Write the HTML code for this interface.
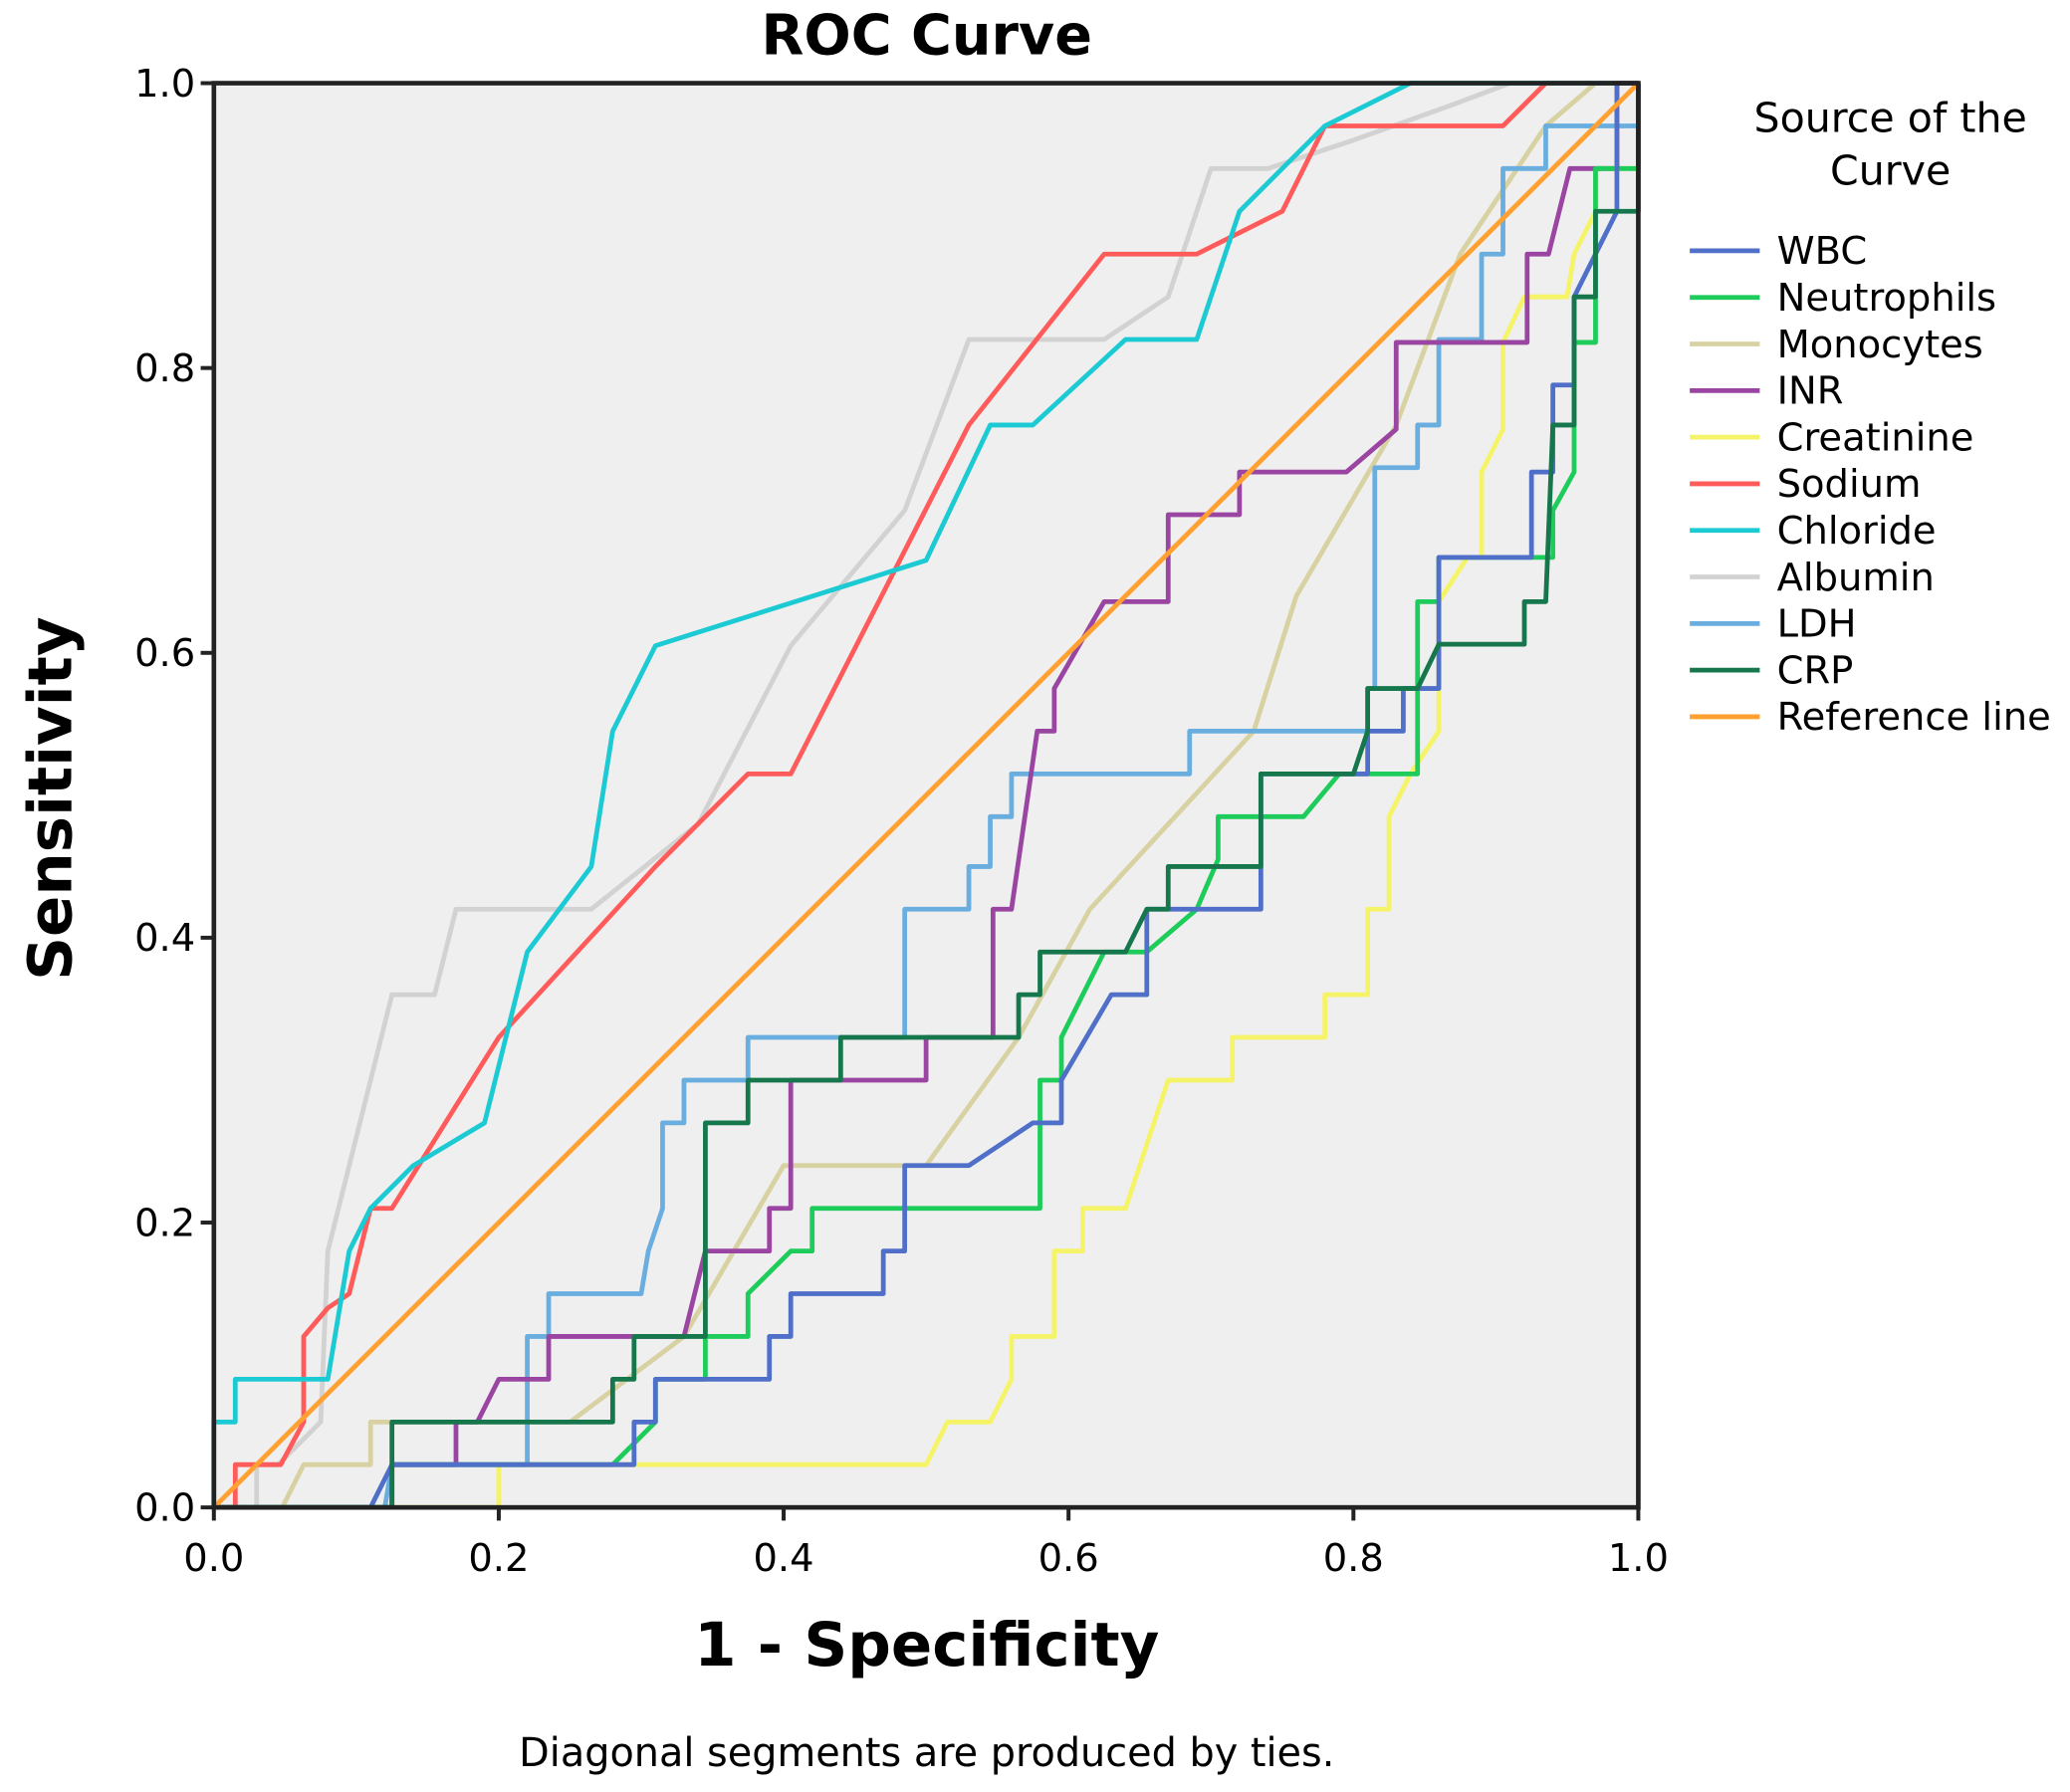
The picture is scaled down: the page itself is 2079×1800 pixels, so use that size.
<!DOCTYPE html>
<html><head><meta charset="utf-8"><style>
html,body{margin:0;padding:0;background:#fff;width:2079px;height:1800px;overflow:hidden}
svg{display:block}
text{font-family:"DejaVu Sans","Liberation Sans",sans-serif;fill:#000}
</style></head><body>
<svg id="chart" width="2079" height="1800" viewBox="0 0 1568 1357.6" xmlns="http://www.w3.org/2000/svg">
<rect x="162" y="63" width="1079" height="1079" fill="#efefef"/>
<g id="series"></g>
<g id="axes"></g>
<text x="702" y="41" text-anchor="middle" font-size="42" font-weight="bold">ROC Curve</text>
<text x="702" y="1262" text-anchor="middle" font-size="46" font-weight="bold">1 - Specificity</text>
<text transform="translate(54,605) rotate(-90)" text-anchor="middle" font-size="46" font-weight="bold">Sensitivity</text>
<text x="702" y="1338" text-anchor="middle" font-size="30">Diagonal segments are produced by ties.</text>
<text x="1432" y="100" text-anchor="middle" font-size="31">Source of the</text>
<text x="1432" y="140" text-anchor="middle" font-size="31">Curve</text>
<g id="legend"></g>
</svg>
<script>
const seriesNames = ["WBC","Neutrophils","Monocytes","INR","Creatinine","Sodium","Chloride","Albumin","LDH","CRP","Reference line"];
const seriesColors = ["#4f6fc8","#1dcc5a","#d8d2a2","#9a45a2","#f5f468","#ff5b5b","#1ccad3","#d2d2d2","#6aaee0","#16774c","#ffa030"];
const wbc = [[0,0],[0.11,0],[0.125,0.03],[0.295,0.03],[0.295,0.06],[0.31,0.06],[0.31,0.09],[0.39,0.09],[0.39,0.12],[0.405,0.12],[0.405,0.15],[0.47,0.15],[0.47,0.18],[0.485,0.18],[0.485,0.24],[0.53,0.24],[0.575,0.27],[0.595,0.27],[0.595,0.30],[0.63,0.36],[0.655,0.36],[0.655,0.42],[0.735,0.42],[0.735,0.515],[0.81,0.515],[0.81,0.545],[0.835,0.545],[0.835,0.575],[0.86,0.575],[0.86,0.667],[0.925,0.667],[0.925,0.727],[0.94,0.727],[0.94,0.788],[0.955,0.788],[0.955,0.85],[0.985,0.91],[0.985,1],[1,1]];
const neutrophils = [[0,0],[0.125,0],[0.125,0.03],[0.28,0.03],[0.31,0.06],[0.31,0.09],[0.345,0.09],[0.345,0.12],[0.375,0.12],[0.375,0.15],[0.405,0.18],[0.42,0.18],[0.42,0.21],[0.58,0.21],[0.58,0.30],[0.595,0.30],[0.595,0.33],[0.625,0.39],[0.655,0.39],[0.69,0.42],[0.705,0.455],[0.705,0.485],[0.765,0.485],[0.79,0.515],[0.845,0.515],[0.845,0.636],[0.86,0.636],[0.86,0.667],[0.94,0.667],[0.94,0.70],[0.955,0.727],[0.955,0.818],[0.97,0.818],[0.97,0.94],[1,0.94],[1,1]];
const monocytes = [[0,0],[0.048,0],[0.063,0.03],[0.11,0.03],[0.11,0.06],[0.25,0.06],[0.33,0.12],[0.40,0.24],[0.50,0.24],[0.565,0.33],[0.615,0.42],[0.73,0.545],[0.76,0.64],[0.83,0.76],[0.875,0.88],[0.935,0.97],[0.97,1],[1,1]];
const inr = [[0,0],[0.125,0],[0.125,0.03],[0.17,0.03],[0.17,0.06],[0.185,0.06],[0.2,0.09],[0.235,0.09],[0.235,0.12],[0.33,0.12],[0.345,0.18],[0.39,0.18],[0.39,0.21],[0.405,0.21],[0.405,0.30],[0.5,0.30],[0.5,0.33],[0.547,0.33],[0.547,0.42],[0.56,0.42],[0.578,0.545],[0.59,0.545],[0.59,0.575],[0.625,0.636],[0.67,0.636],[0.67,0.697],[0.72,0.697],[0.72,0.727],[0.795,0.727],[0.83,0.757],[0.83,0.818],[0.922,0.818],[0.922,0.88],[0.937,0.88],[0.952,0.94],[0.985,0.94],[0.985,1],[1,1]];
const creatinine = [[0,0],[0.2,0],[0.2,0.03],[0.5,0.03],[0.515,0.06],[0.545,0.06],[0.56,0.09],[0.56,0.12],[0.59,0.12],[0.59,0.18],[0.61,0.18],[0.61,0.21],[0.64,0.21],[0.66,0.27],[0.67,0.30],[0.715,0.30],[0.715,0.33],[0.78,0.33],[0.78,0.36],[0.81,0.36],[0.81,0.42],[0.825,0.42],[0.825,0.485],[0.84,0.515],[0.86,0.545],[0.86,0.636],[0.88,0.667],[0.89,0.667],[0.89,0.727],[0.905,0.757],[0.905,0.818],[0.92,0.85],[0.95,0.85],[0.955,0.88],[0.97,0.91],[0.97,0.94],[1,0.94],[1,1]];
const sodium = [[0,0],[0.015,0],[0.015,0.03],[0.047,0.03],[0.063,0.06],[0.063,0.12],[0.08,0.14],[0.095,0.15],[0.11,0.21],[0.125,0.21],[0.2,0.33],[0.31,0.45],[0.375,0.515],[0.405,0.515],[0.53,0.76],[0.625,0.88],[0.69,0.88],[0.75,0.91],[0.78,0.97],[0.905,0.97],[0.935,1],[1,1]];
const chloride = [[0,0],[0,0.06],[0.015,0.06],[0.015,0.09],[0.08,0.09],[0.095,0.18],[0.11,0.21],[0.14,0.24],[0.19,0.27],[0.22,0.39],[0.265,0.45],[0.28,0.545],[0.31,0.605],[0.5,0.665],[0.545,0.76],[0.575,0.76],[0.64,0.82],[0.69,0.82],[0.72,0.91],[0.78,0.97],[0.84,1],[1,1]];
const albumin = [[0,0],[0.03,0],[0.03,0.03],[0.045,0.03],[0.075,0.06],[0.08,0.18],[0.125,0.36],[0.155,0.36],[0.17,0.42],[0.265,0.42],[0.34,0.48],[0.405,0.605],[0.485,0.70],[0.53,0.82],[0.625,0.82],[0.67,0.85],[0.70,0.94],[0.74,0.94],[0.80,0.96],[0.87,0.985],[0.91,1],[1,1]];
const ldh = [[0,0],[0.12,0],[0.125,0.03],[0.22,0.03],[0.22,0.12],[0.235,0.12],[0.235,0.15],[0.3,0.15],[0.305,0.18],[0.315,0.21],[0.315,0.27],[0.33,0.27],[0.33,0.30],[0.375,0.30],[0.375,0.33],[0.485,0.33],[0.485,0.42],[0.53,0.42],[0.53,0.45],[0.545,0.45],[0.545,0.485],[0.56,0.485],[0.56,0.515],[0.685,0.515],[0.685,0.545],[0.81,0.545],[0.81,0.575],[0.815,0.575],[0.815,0.73],[0.845,0.73],[0.845,0.76],[0.86,0.76],[0.86,0.82],[0.89,0.82],[0.89,0.88],[0.905,0.88],[0.905,0.94],[0.935,0.94],[0.935,0.97],[1,0.97],[1,1]];
const crp = [[0,0],[0.125,0],[0.125,0.06],[0.28,0.06],[0.28,0.09],[0.295,0.09],[0.295,0.12],[0.345,0.12],[0.345,0.27],[0.375,0.27],[0.375,0.30],[0.44,0.30],[0.44,0.33],[0.565,0.33],[0.565,0.36],[0.58,0.36],[0.58,0.39],[0.64,0.39],[0.655,0.42],[0.67,0.42],[0.67,0.45],[0.735,0.45],[0.735,0.515],[0.8,0.515],[0.81,0.545],[0.81,0.575],[0.845,0.575],[0.86,0.606],[0.92,0.606],[0.92,0.636],[0.935,0.636],[0.94,0.76],[0.955,0.76],[0.955,0.85],[0.97,0.85],[0.97,0.91],[1,0.91],[1,1]];
const reference = [[0,0],[1,1]];
const tickValues = [0,0.2,0.4,0.6,0.8,1.0];
const tickLabels = ["0.0","0.2","0.4","0.6","0.8","1.0"];

const NS = "http://www.w3.org/2000/svg";
const X0=162, X1=1241, YB=1142, YT=63;
function sx(v){return X0+(X1-X0)*v;}
function sy(v){return YB-(YB-YT)*v;}
const allSeries=[wbc,neutrophils,monocytes,inr,creatinine,sodium,chloride,albumin,ldh,crp];
const order=[7,2,4,5,6,8,3,1,0,9];
const gS=document.getElementById('series');
function mk(tag,attrs,parent){const e=document.createElementNS(NS,tag);for(const k in attrs)e.setAttribute(k,attrs[k]);parent.appendChild(e);return e;}
order.forEach(i=>{
  const p=mk('polyline',{points:allSeries[i].map(d=>sx(d[0]).toFixed(1)+','+sy(d[1]).toFixed(1)).join(' '),fill:'none',stroke:seriesColors[i],'stroke-width':3.6,'stroke-linejoin':'round'},gS);
  
  
});
const ref=mk('polyline',{points:reference.map(d=>sx(d[0])+','+sy(d[1])).join(' '),fill:'none',stroke:seriesColors[10],'stroke-width':3.6},gS);



const gA=document.getElementById('axes');
const frame=mk('rect',{x:X0,y:YT,width:X1-X0,height:YB-YT,fill:'none',stroke:'#222','stroke-width':3.5},gA);


tickValues.forEach((v,i)=>{
  const tx=mk('line',{x1:sx(v),x2:sx(v),y1:YB,y2:YB+10,stroke:'#222','stroke-width':3},gA);
  
  
  const lx=mk('text',{x:sx(v),y:YB+48,'text-anchor':'middle','font-size':29},gA);
  lx.textContent=tickLabels[i];
  
  
  const ty=mk('line',{x1:X0-10,x2:X0,y1:sy(v),y2:sy(v),stroke:'#222','stroke-width':3},gA);
  
  
  const ly=mk('text',{x:X0-14,y:sy(v)+10,'text-anchor':'end','font-size':29},gA);
  ly.textContent=tickLabels[i];
  
  
});

const gL=document.getElementById('legend');
seriesNames.forEach((n,i)=>{
  const y=190+i*35.3;
  const g=mk('g',{},gL);
  
  
  mk('line',{x1:1280,x2:1333,y1:y,y2:y,stroke:seriesColors[i],'stroke-width':3.6},g);
  const t=mk('text',{x:1346,y:y+10,'font-size':29},g);
  t.textContent=n;
});
</script>
</body></html>
